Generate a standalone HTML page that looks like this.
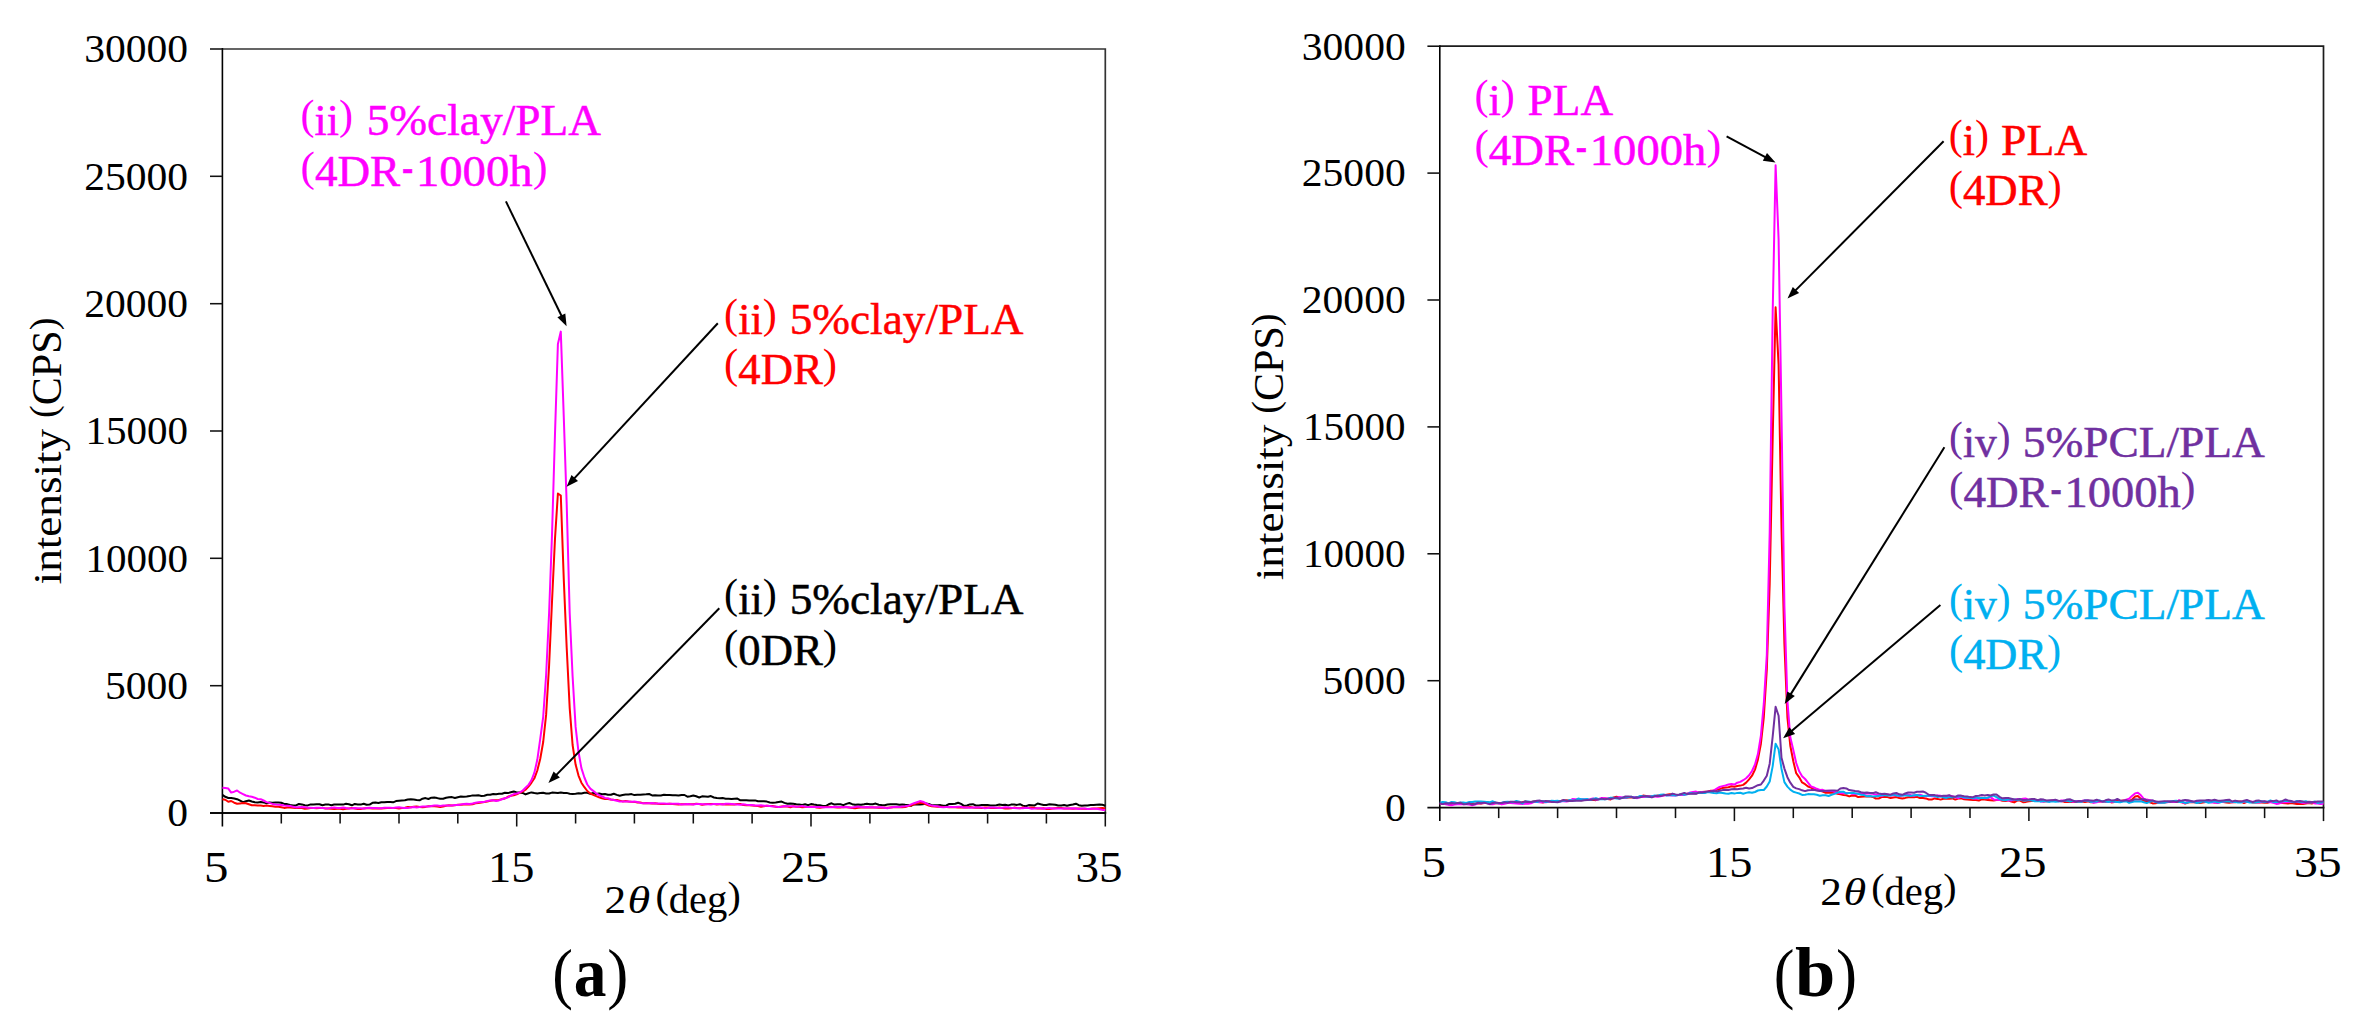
<!DOCTYPE html>
<html lang="en">
<head>
<meta charset="utf-8">
<title>XRD intensity profiles</title>
<style>
html,body{margin:0;padding:0;background:#fff;}
body{width:2379px;height:1030px;overflow:hidden;}
svg{display:block;}
svg text{font-family:"Liberation Serif", "DejaVu Serif", serif;fill:#000;}
svg g[fill] text{fill:inherit;}
.tk line{stroke:#111;stroke-width:1.55;}
</style>
</head>
<body>
<svg width="2379" height="1030" viewBox="0 0 2379 1030">
<rect width="2379" height="1030" fill="#fff"/>

<!-- chart (a) -->
<path d="M222.4,49.0H1105.3V813.0" fill="none" stroke="#333" stroke-width="1.7"/>
<path d="M210.0,813.0H1106.2" fill="none" stroke="#0c0c0c" stroke-width="1.9"/>
<path d="M222.4,48.1V826.5" fill="none" stroke="#000" stroke-width="1.6"/>
<g class="tk"><line x1="210.0" y1="685.7" x2="222.4" y2="685.7"/>
<line x1="210.0" y1="558.3" x2="222.4" y2="558.3"/>
<line x1="210.0" y1="431.0" x2="222.4" y2="431.0"/>
<line x1="210.0" y1="303.7" x2="222.4" y2="303.7"/>
<line x1="210.0" y1="176.3" x2="222.4" y2="176.3"/>
<line x1="210.0" y1="49.0" x2="222.4" y2="49.0"/>
<line x1="281.3" y1="813.0" x2="281.3" y2="823.5"/>
<line x1="340.1" y1="813.0" x2="340.1" y2="823.5"/>
<line x1="399.0" y1="813.0" x2="399.0" y2="823.5"/>
<line x1="457.8" y1="813.0" x2="457.8" y2="823.5"/>
<line x1="516.7" y1="813.0" x2="516.7" y2="826.5"/>
<line x1="575.6" y1="813.0" x2="575.6" y2="823.5"/>
<line x1="634.4" y1="813.0" x2="634.4" y2="823.5"/>
<line x1="693.3" y1="813.0" x2="693.3" y2="823.5"/>
<line x1="752.1" y1="813.0" x2="752.1" y2="823.5"/>
<line x1="811.0" y1="813.0" x2="811.0" y2="826.5"/>
<line x1="869.9" y1="813.0" x2="869.9" y2="823.5"/>
<line x1="928.7" y1="813.0" x2="928.7" y2="823.5"/>
<line x1="987.6" y1="813.0" x2="987.6" y2="823.5"/>
<line x1="1046.4" y1="813.0" x2="1046.4" y2="823.5"/>
<line x1="1105.3" y1="813.0" x2="1105.3" y2="826.5"/></g>
<polyline points="222.4,794.9 225.3,796.8 228.3,798.0 231.2,798.0 234.2,798.5 237.1,799.2 240.1,800.7 243.0,802.1 245.9,801.2 248.9,800.5 251.8,801.5 254.8,802.3 257.7,802.4 260.7,802.0 263.6,802.4 266.5,803.2 269.5,802.5 272.4,802.7 275.4,802.4 278.3,802.6 281.3,802.8 284.2,803.9 287.1,804.1 290.1,804.9 293.0,805.5 296.0,805.4 298.9,804.0 301.9,804.4 304.8,805.2 307.7,805.4 310.7,804.4 313.6,804.4 316.6,804.3 319.5,804.2 322.5,805.2 325.4,804.6 328.3,804.4 331.3,805.2 334.2,804.5 337.2,804.4 340.1,804.6 343.1,804.6 346.0,803.8 348.9,804.2 351.9,805.3 354.8,803.9 357.8,804.4 360.7,804.6 363.7,803.7 366.6,804.8 369.6,804.6 372.5,802.8 375.4,802.6 378.4,803.0 381.3,802.3 384.3,802.3 387.2,801.9 390.2,801.9 393.1,802.3 396.0,801.1 399.0,800.7 401.9,800.4 404.9,800.3 407.8,799.5 410.8,799.3 413.7,799.5 416.6,800.0 419.6,800.3 422.5,798.7 425.5,798.1 428.4,799.0 431.4,797.7 434.3,797.6 437.2,798.1 440.2,798.8 443.1,798.7 446.1,797.7 449.0,797.2 452.0,797.1 454.9,798.0 457.8,797.2 460.8,796.5 463.7,796.8 466.7,796.5 469.6,796.1 472.6,795.4 475.5,795.5 478.4,795.3 481.4,795.9 484.3,795.7 487.3,794.8 490.2,794.7 493.2,794.0 496.1,794.2 499.0,793.8 502.0,793.7 504.9,792.7 507.9,793.1 510.8,792.3 513.8,791.5 516.7,792.4 519.6,792.5 522.6,792.9 525.5,794.4 528.5,793.2 531.4,792.4 534.4,793.0 537.3,793.4 540.2,793.1 543.2,792.8 546.1,793.4 549.1,793.5 552.0,792.6 555.0,792.7 557.9,793.1 560.8,792.5 563.8,793.1 566.7,792.9 569.7,793.7 572.6,793.9 575.6,793.7 578.5,793.3 581.4,793.5 584.4,792.7 587.3,792.7 590.3,793.9 593.2,793.0 596.2,794.1 599.1,793.5 602.0,794.3 605.0,794.1 607.9,794.7 610.9,794.8 613.8,793.7 616.8,794.9 619.7,795.8 622.6,795.0 625.6,794.5 628.5,794.6 631.5,794.1 634.4,795.1 637.4,794.8 640.3,794.7 643.2,794.4 646.2,794.3 649.1,794.0 652.1,795.4 655.0,795.3 658.0,795.6 660.9,795.4 663.9,794.8 666.8,794.9 669.7,794.9 672.7,795.3 675.6,795.3 678.6,795.4 681.5,794.9 684.5,795.0 687.4,796.7 690.3,796.2 693.3,795.5 696.2,796.3 699.2,797.5 702.1,796.3 705.1,796.4 708.0,796.7 710.9,796.1 713.9,797.5 716.8,798.1 719.8,798.2 722.7,798.0 725.7,798.7 728.6,798.8 731.5,799.0 734.5,798.8 737.4,798.6 740.4,800.3 743.3,800.2 746.3,800.3 749.2,800.5 752.1,800.4 755.1,800.4 758.0,801.3 761.0,801.3 763.9,801.3 766.9,801.6 769.8,802.5 772.7,802.7 775.7,802.6 778.6,802.1 781.6,801.6 784.5,802.9 787.5,803.8 790.4,803.4 793.3,803.8 796.3,804.3 799.2,804.6 802.2,804.9 805.1,804.3 808.1,805.1 811.0,804.1 813.9,804.6 816.9,805.0 819.8,805.2 822.8,805.9 825.7,806.0 828.7,804.3 831.6,803.3 834.5,804.6 837.5,804.3 840.4,804.3 843.4,805.1 846.3,803.9 849.3,803.0 852.2,804.2 855.1,804.8 858.1,804.6 861.0,804.7 864.0,804.3 866.9,803.7 869.9,804.3 872.8,804.2 875.7,803.6 878.7,804.7 881.6,805.0 884.6,805.2 887.5,804.5 890.5,804.3 893.4,804.2 896.3,804.2 899.3,804.8 902.2,804.5 905.2,804.8 908.1,805.0 911.1,805.8 914.0,804.2 916.9,804.4 919.9,804.5 922.8,804.3 925.8,803.6 928.7,804.0 931.7,805.2 934.6,805.2 937.5,805.2 940.5,805.1 943.4,805.8 946.4,805.5 949.3,803.9 952.3,804.1 955.2,803.8 958.1,802.7 961.1,803.9 964.0,805.8 967.0,805.5 969.9,804.4 972.9,804.2 975.8,805.5 978.8,805.5 981.7,805.1 984.6,805.0 987.6,805.0 990.5,805.5 993.5,805.6 996.4,805.3 999.4,804.5 1002.3,805.0 1005.2,804.7 1008.2,805.4 1011.1,804.6 1014.1,804.5 1017.0,804.9 1020.0,804.2 1022.9,805.6 1025.8,806.3 1028.8,805.1 1031.7,805.2 1034.7,805.4 1037.6,803.5 1040.6,804.3 1043.5,804.9 1046.4,804.9 1049.4,804.3 1052.3,804.4 1055.3,804.7 1058.2,805.5 1061.2,805.4 1064.1,805.0 1067.0,805.7 1070.0,805.0 1072.9,804.5 1075.9,803.7 1078.8,805.2 1081.8,805.8 1084.7,805.6 1087.6,805.5 1090.6,805.1 1093.5,805.0 1096.5,804.7 1099.4,804.6 1102.4,804.8 1105.3,805.7" fill="none" stroke="#000000" stroke-width="2.0" stroke-linejoin="round" stroke-linecap="butt"/>
<polyline points="222.4,799.3 225.3,799.7 228.3,801.8 231.2,801.0 234.2,802.7 237.1,803.8 240.1,803.4 243.0,803.1 245.9,803.2 248.9,804.2 251.8,805.2 254.8,805.3 257.7,805.4 260.7,805.6 263.6,805.9 266.5,805.6 269.5,805.9 272.4,806.2 275.4,806.8 278.3,806.8 281.3,807.2 284.2,807.9 287.1,807.6 290.1,807.5 293.0,807.8 296.0,808.0 298.9,807.7 301.9,808.1 304.8,808.8 307.7,808.4 310.7,808.1 313.6,807.9 316.6,808.2 319.5,808.0 322.5,807.9 325.4,808.6 328.3,808.4 331.3,808.7 334.2,809.1 337.2,808.8 340.1,808.7 343.1,809.2 346.0,808.8 348.9,808.4 351.9,808.1 354.8,808.4 357.8,809.0 360.7,809.1 363.7,808.4 366.6,808.2 369.6,808.2 372.5,808.5 375.4,808.4 378.4,808.4 381.3,808.4 384.3,808.2 387.2,808.1 390.2,808.1 393.1,808.0 396.0,808.0 399.0,808.4 401.9,808.1 404.9,807.7 407.8,807.0 410.8,807.2 413.7,806.8 416.6,806.5 419.6,807.1 422.5,807.3 425.5,806.9 428.4,806.2 431.4,806.3 434.3,806.2 437.2,806.4 440.2,807.0 443.1,806.5 446.1,805.7 449.0,805.3 452.0,805.4 454.9,805.3 457.8,804.8 460.8,804.8 463.7,804.4 466.7,804.5 469.6,804.5 472.6,804.2 475.5,803.3 478.4,803.0 481.4,802.5 484.3,801.9 487.3,801.5 490.2,800.8 493.2,800.2 496.1,800.3 499.0,799.9 502.0,799.1 504.9,798.5 507.9,796.8 510.8,795.7 513.8,795.2 516.7,794.3 519.6,792.8 522.6,791.6 525.5,789.7 528.5,786.6 531.4,782.8 534.4,778.3 537.3,770.5 540.2,759.0 543.2,742.0 546.1,714.9 549.1,665.5 552.0,601.8 555.0,538.6 557.9,493.5 560.8,495.5 563.8,579.9 566.7,647.8 569.7,708.1 572.6,745.0 575.6,764.6 578.5,775.6 581.4,782.7 584.4,787.2 587.3,791.0 590.3,793.5 593.2,794.8 596.2,796.1 599.1,797.3 602.0,798.3 605.0,798.9 607.9,799.1 610.9,799.6 613.8,799.8 616.8,799.9 619.7,800.6 622.6,801.4 625.6,801.1 628.5,801.5 631.5,801.8 634.4,801.9 637.4,802.6 640.3,802.6 643.2,803.2 646.2,803.0 649.1,803.2 652.1,803.4 655.0,803.3 658.0,803.8 660.9,803.9 663.9,804.1 666.8,804.1 669.7,803.8 672.7,804.0 675.6,804.3 678.6,804.6 681.5,804.2 684.5,804.2 687.4,803.9 690.3,804.3 693.3,804.2 696.2,803.7 699.2,804.1 702.1,804.7 705.1,804.2 708.0,803.9 710.9,804.1 713.9,804.0 716.8,804.4 719.8,804.3 722.7,804.2 725.7,804.6 728.6,804.4 731.5,804.6 734.5,804.4 737.4,804.1 740.4,804.0 743.3,805.1 746.3,805.2 749.2,805.3 752.1,805.5 755.1,805.8 758.0,806.0 761.0,806.7 763.9,806.3 766.9,805.8 769.8,806.0 772.7,806.0 775.7,806.7 778.6,807.0 781.6,806.6 784.5,806.3 787.5,806.5 790.4,807.3 793.3,806.3 796.3,806.7 799.2,806.8 802.2,807.2 805.1,806.9 808.1,806.9 811.0,806.7 813.9,806.7 816.9,807.5 819.8,807.7 822.8,807.3 825.7,807.0 828.7,806.7 831.6,807.0 834.5,807.3 837.5,807.4 840.4,807.4 843.4,807.1 846.3,807.3 849.3,807.5 852.2,807.9 855.1,808.3 858.1,807.8 861.0,807.4 864.0,807.5 866.9,807.5 869.9,807.4 872.8,807.6 875.7,807.4 878.7,807.7 881.6,807.8 884.6,807.8 887.5,807.7 890.5,807.4 893.4,807.2 896.3,807.2 899.3,807.1 902.2,807.2 905.2,807.0 908.1,806.0 911.1,805.4 914.0,804.3 916.9,803.4 919.9,803.0 922.8,803.0 925.8,804.4 928.7,805.5 931.7,806.2 934.6,806.6 937.5,806.8 940.5,806.7 943.4,806.9 946.4,807.0 949.3,807.2 952.3,807.0 955.2,807.2 958.1,807.4 961.1,807.4 964.0,807.3 967.0,807.6 969.9,807.1 972.9,807.5 975.8,807.8 978.8,807.8 981.7,807.9 984.6,807.6 987.6,807.6 990.5,808.0 993.5,808.1 996.4,808.0 999.4,807.5 1002.3,807.9 1005.2,808.4 1008.2,808.5 1011.1,808.3 1014.1,807.6 1017.0,808.1 1020.0,808.2 1022.9,807.4 1025.8,807.9 1028.8,807.8 1031.7,807.6 1034.7,807.9 1037.6,808.5 1040.6,808.4 1043.5,808.3 1046.4,808.9 1049.4,809.1 1052.3,808.6 1055.3,808.3 1058.2,808.0 1061.2,808.0 1064.1,808.5 1067.0,808.6 1070.0,808.6 1072.9,808.8 1075.9,808.4 1078.8,808.4 1081.8,808.7 1084.7,808.8 1087.6,808.9 1090.6,808.8 1093.5,808.5 1096.5,808.6 1099.4,808.3 1102.4,808.0 1105.3,808.5" fill="none" stroke="#ff0000" stroke-width="2.0" stroke-linejoin="round" stroke-linecap="butt"/>
<polyline points="222.4,787.7 225.3,788.0 228.3,788.6 231.2,792.6 234.2,791.7 237.1,790.5 240.1,792.7 243.0,794.1 245.9,795.5 248.9,796.3 251.8,796.8 254.8,797.7 257.7,799.0 260.7,799.2 263.6,800.5 266.5,802.1 269.5,802.9 272.4,803.9 275.4,804.4 278.3,804.7 281.3,805.0 284.2,805.6 287.1,805.8 290.1,806.1 293.0,806.7 296.0,807.4 298.9,807.2 301.9,807.1 304.8,807.3 307.7,807.8 310.7,807.7 313.6,808.1 316.6,807.7 319.5,807.7 322.5,807.9 325.4,808.2 328.3,808.4 331.3,807.7 334.2,807.5 337.2,808.0 340.1,807.9 343.1,807.5 346.0,808.1 348.9,808.4 351.9,808.3 354.8,808.0 357.8,808.3 360.7,808.2 363.7,808.4 366.6,808.0 369.6,807.7 372.5,808.0 375.4,807.9 378.4,808.2 381.3,808.2 384.3,807.7 387.2,807.8 390.2,807.7 393.1,807.9 396.0,807.6 399.0,807.3 401.9,807.7 404.9,808.1 407.8,808.1 410.8,807.4 413.7,807.1 416.6,807.4 419.6,807.0 422.5,806.4 425.5,806.4 428.4,806.6 431.4,806.1 434.3,805.6 437.2,805.4 440.2,805.9 443.1,805.6 446.1,805.4 449.0,805.5 452.0,805.5 454.9,805.0 457.8,805.0 460.8,804.5 463.7,804.1 466.7,803.7 469.6,803.9 472.6,803.5 475.5,802.7 478.4,802.3 481.4,802.0 484.3,801.9 487.3,800.9 490.2,800.4 493.2,800.3 496.1,800.9 499.0,800.4 502.0,799.2 504.9,798.2 507.9,797.4 510.8,795.6 513.8,794.1 516.7,793.6 519.6,792.5 522.6,790.7 525.5,787.8 528.5,784.9 531.4,780.3 534.4,772.6 537.3,759.8 540.2,739.2 543.2,716.8 546.1,675.5 549.1,613.1 552.0,535.0 555.0,433.6 557.9,344.0 560.8,331.6 563.8,417.7 566.7,504.2 569.7,613.2 572.6,676.3 575.6,726.9 578.5,751.8 581.4,768.1 584.4,777.5 587.3,784.5 590.3,788.6 593.2,790.9 596.2,793.3 599.1,795.1 602.0,796.5 605.0,797.9 607.9,798.3 610.9,799.5 613.8,800.0 616.8,800.8 619.7,801.4 622.6,801.5 625.6,801.6 628.5,801.6 631.5,801.7 634.4,801.5 637.4,801.9 640.3,802.9 643.2,803.3 646.2,803.3 649.1,803.2 652.1,802.9 655.0,803.5 658.0,803.5 660.9,803.5 663.9,803.5 666.8,803.7 669.7,803.7 672.7,803.8 675.6,803.7 678.6,803.7 681.5,804.6 684.5,804.3 687.4,804.0 690.3,804.2 693.3,804.4 696.2,803.9 699.2,803.9 702.1,804.3 705.1,804.3 708.0,804.2 710.9,804.6 713.9,804.1 716.8,804.0 719.8,804.0 722.7,804.5 725.7,803.8 728.6,803.7 731.5,803.9 734.5,804.3 737.4,804.5 740.4,804.8 743.3,804.2 746.3,804.7 749.2,805.0 752.1,805.0 755.1,805.6 758.0,805.6 761.0,805.2 763.9,805.7 766.9,805.7 769.8,805.9 772.7,806.4 775.7,806.6 778.6,807.0 781.6,806.7 784.5,806.1 787.5,806.2 790.4,806.3 793.3,806.2 796.3,806.7 799.2,806.6 802.2,806.1 805.1,806.7 808.1,806.9 811.0,807.0 813.9,807.0 816.9,807.1 819.8,807.1 822.8,807.3 825.7,807.3 828.7,807.2 831.6,807.2 834.5,806.7 837.5,806.9 840.4,807.0 843.4,807.2 846.3,806.8 849.3,807.5 852.2,807.5 855.1,806.9 858.1,806.6 861.0,807.0 864.0,807.3 866.9,807.1 869.9,807.3 872.8,807.2 875.7,807.5 878.7,807.3 881.6,807.3 884.6,807.7 887.5,808.3 890.5,807.4 893.4,807.0 896.3,806.8 899.3,807.1 902.2,806.6 905.2,806.3 908.1,805.8 911.1,804.4 914.0,803.2 916.9,802.2 919.9,801.1 922.8,801.7 925.8,803.2 928.7,804.6 931.7,805.6 934.6,805.9 937.5,806.3 940.5,807.0 943.4,807.2 946.4,807.0 949.3,806.8 952.3,807.1 955.2,807.1 958.1,806.7 961.1,806.8 964.0,807.6 967.0,807.6 969.9,807.7 972.9,807.4 975.8,807.6 978.8,807.4 981.7,807.4 984.6,808.2 987.6,808.1 990.5,807.6 993.5,807.5 996.4,807.7 999.4,808.1 1002.3,807.7 1005.2,807.2 1008.2,807.4 1011.1,807.8 1014.1,807.9 1017.0,808.3 1020.0,808.2 1022.9,808.2 1025.8,807.7 1028.8,808.1 1031.7,808.8 1034.7,808.6 1037.6,808.3 1040.6,808.2 1043.5,808.7 1046.4,808.2 1049.4,808.1 1052.3,808.4 1055.3,808.6 1058.2,808.4 1061.2,808.4 1064.1,808.4 1067.0,808.5 1070.0,808.5 1072.9,808.2 1075.9,808.5 1078.8,808.9 1081.8,808.6 1084.7,808.6 1087.6,809.0 1090.6,808.7 1093.5,808.8 1096.5,808.7 1099.4,809.2 1102.4,809.9 1105.3,810.0" fill="none" stroke="#ff00ff" stroke-width="2.0" stroke-linejoin="round" stroke-linecap="butt"/>
<text x="167.3" y="826.3" font-size="40.2" textLength="20.8" lengthAdjust="spacingAndGlyphs">0</text>
<text x="105.0" y="699.0" font-size="40.2" textLength="83.1" lengthAdjust="spacingAndGlyphs">5000</text>
<text x="85.4" y="571.6" font-size="40.2" textLength="102.6" lengthAdjust="spacingAndGlyphs">10000</text>
<text x="85.4" y="444.3" font-size="40.2" textLength="102.6" lengthAdjust="spacingAndGlyphs">15000</text>
<text x="84.2" y="317.0" font-size="40.2" textLength="103.9" lengthAdjust="spacingAndGlyphs">20000</text>
<text x="84.2" y="189.6" font-size="40.2" textLength="103.9" lengthAdjust="spacingAndGlyphs">25000</text>
<text x="84.2" y="62.3" font-size="40.2" textLength="103.9" lengthAdjust="spacingAndGlyphs">30000</text>
<text x="204.0" y="882.0" font-size="44.0" textLength="24.5" lengthAdjust="spacingAndGlyphs">5</text>
<text x="488.0" y="882.0" font-size="44.0" textLength="46.4" lengthAdjust="spacingAndGlyphs">15</text>
<text x="780.9" y="882.0" font-size="44.0" textLength="48.3" lengthAdjust="spacingAndGlyphs">25</text>
<text x="1075.5" y="882.0" font-size="44.0" textLength="47.1" lengthAdjust="spacingAndGlyphs">35</text>
<text transform="translate(60.8,583.5) rotate(-90)"><tspan x="-0.9" y="0.0" font-size="39.8" textLength="155.6" lengthAdjust="spacingAndGlyphs">intensity</tspan><tspan> </tspan><tspan x="165.6" y="0.0" font-size="42.7" textLength="100.2" lengthAdjust="spacingAndGlyphs"><tspan font-size="38.6" dy="-5.1">(</tspan><tspan dy="5.1">CPS</tspan><tspan font-size="38.6" dy="-5.1">)</tspan></tspan></text>
<text><tspan x="604.4" y="912.9" font-size="39.0" textLength="21.6" lengthAdjust="spacingAndGlyphs">2</tspan><tspan x="627.6" y="912.9" font-size="38.3" textLength="22.7" lengthAdjust="spacingAndGlyphs" font-style="italic">θ</tspan><tspan> </tspan><tspan x="655.4" y="912.9" font-size="39.0" textLength="85.3" lengthAdjust="spacingAndGlyphs"><tspan font-size="38.3" dy="-5.3">(</tspan><tspan dy="5.3">deg</tspan><tspan font-size="38.3" dy="-5.3">)</tspan></tspan></text>
<text><tspan x="552.3" y="996.2" font-size="68.0" textLength="20.7" lengthAdjust="spacingAndGlyphs">(</tspan><tspan x="573.7" y="995.9" font-size="69.5" textLength="32.7" lengthAdjust="spacingAndGlyphs" font-weight="bold">a</tspan><tspan x="607.3" y="996.2" font-size="68.0" textLength="21.1" lengthAdjust="spacingAndGlyphs">)</tspan></text>
<g fill="#ff00ff" stroke="#ff00ff" stroke-width="0.5">
<text><tspan x="300.6" y="135.0" font-size="44.3" textLength="52.4" lengthAdjust="spacingAndGlyphs"><tspan font-size="42.4" dy="-5.8" stroke="none">(</tspan><tspan dy="5.8">ii</tspan><tspan font-size="42.4" dy="-5.8" stroke="none">)</tspan></tspan><tspan> </tspan><tspan x="366.7" y="135.0" font-size="44.3" textLength="234.2" lengthAdjust="spacingAndGlyphs">5%clay/PLA</tspan></text>
<text><tspan x="300.5" y="186.4" font-size="44.3" textLength="99.7" lengthAdjust="spacingAndGlyphs"><tspan font-size="42.4" dy="-5.8" stroke="none">(</tspan><tspan dy="5.8">4DR</tspan></tspan><tspan x="401.9" y="182.8" font-size="50.0" textLength="11.2" lengthAdjust="spacingAndGlyphs">-</tspan><tspan x="415.9" y="186.4" font-size="44.3" textLength="131.7" lengthAdjust="spacingAndGlyphs"><tspan>1000h</tspan><tspan font-size="42.4" dy="-5.8" stroke="none">)</tspan></tspan></text>
</g>
<g fill="#ff0000" stroke="#ff0000" stroke-width="0.5">
<text><tspan x="724.1" y="333.6" font-size="44.3" textLength="52.6" lengthAdjust="spacingAndGlyphs"><tspan font-size="42.4" dy="-5.8" stroke="none">(</tspan><tspan dy="5.8">ii</tspan><tspan font-size="42.4" dy="-5.8" stroke="none">)</tspan></tspan><tspan> </tspan><tspan x="789.7" y="333.6" font-size="44.3" textLength="233.8" lengthAdjust="spacingAndGlyphs">5%clay/PLA</tspan></text>
<text><tspan x="724.1" y="383.9" font-size="44.3" textLength="112.9" lengthAdjust="spacingAndGlyphs"><tspan font-size="42.4" dy="-5.8" stroke="none">(</tspan><tspan dy="5.8">4DR</tspan><tspan font-size="42.4" dy="-5.8" stroke="none">)</tspan></tspan></text>
</g>
<g fill="#000000" stroke="#000000" stroke-width="0.5">
<text><tspan x="724.1" y="614.2" font-size="44.3" textLength="52.6" lengthAdjust="spacingAndGlyphs"><tspan font-size="42.4" dy="-5.8" stroke="none">(</tspan><tspan dy="5.8">ii</tspan><tspan font-size="42.4" dy="-5.8" stroke="none">)</tspan></tspan><tspan> </tspan><tspan x="789.7" y="614.2" font-size="44.3" textLength="233.8" lengthAdjust="spacingAndGlyphs">5%clay/PLA</tspan></text>
<text><tspan x="724.1" y="664.7" font-size="44.3" textLength="112.9" lengthAdjust="spacingAndGlyphs"><tspan font-size="42.4" dy="-5.8" stroke="none">(</tspan><tspan dy="5.8">0DR</tspan><tspan font-size="42.4" dy="-5.8" stroke="none">)</tspan></tspan></text>
</g>
<line x1="505.9" y1="201.4" x2="562.2" y2="317.2" stroke="#000" stroke-width="2.0"/><polygon points="566.6,326.2 557.4,317.3 565.3,313.5" fill="#000"/>
<line x1="717.8" y1="323.3" x2="573.4" y2="479.4" stroke="#000" stroke-width="2.0"/><polygon points="566.6,486.7 571.5,474.9 578.0,480.9" fill="#000"/>
<line x1="719.3" y1="608.2" x2="555.4" y2="775.9" stroke="#000" stroke-width="2.0"/><polygon points="548.4,783.1 553.6,771.4 559.9,777.6" fill="#000"/>
<!-- chart (b) -->
<path d="M1439.8,46.2H2323.5V807.6" fill="none" stroke="#1c1c1c" stroke-width="1.7"/>
<path d="M1427.4,807.6H2324.4" fill="none" stroke="#0c0c0c" stroke-width="1.9"/>
<path d="M1439.8,45.3V821.1" fill="none" stroke="#000" stroke-width="1.6"/>
<g class="tk"><line x1="1427.4" y1="680.7" x2="1439.8" y2="680.7"/>
<line x1="1427.4" y1="553.8" x2="1439.8" y2="553.8"/>
<line x1="1427.4" y1="426.9" x2="1439.8" y2="426.9"/>
<line x1="1427.4" y1="300.0" x2="1439.8" y2="300.0"/>
<line x1="1427.4" y1="173.1" x2="1439.8" y2="173.1"/>
<line x1="1427.4" y1="46.2" x2="1439.8" y2="46.2"/>
<line x1="1498.7" y1="807.6" x2="1498.7" y2="818.1"/>
<line x1="1557.6" y1="807.6" x2="1557.6" y2="818.1"/>
<line x1="1616.5" y1="807.6" x2="1616.5" y2="818.1"/>
<line x1="1675.5" y1="807.6" x2="1675.5" y2="818.1"/>
<line x1="1734.4" y1="807.6" x2="1734.4" y2="821.1"/>
<line x1="1793.3" y1="807.6" x2="1793.3" y2="818.1"/>
<line x1="1852.2" y1="807.6" x2="1852.2" y2="818.1"/>
<line x1="1911.1" y1="807.6" x2="1911.1" y2="818.1"/>
<line x1="1970.0" y1="807.6" x2="1970.0" y2="818.1"/>
<line x1="2028.9" y1="807.6" x2="2028.9" y2="821.1"/>
<line x1="2087.8" y1="807.6" x2="2087.8" y2="818.1"/>
<line x1="2146.8" y1="807.6" x2="2146.8" y2="818.1"/>
<line x1="2205.7" y1="807.6" x2="2205.7" y2="818.1"/>
<line x1="2264.6" y1="807.6" x2="2264.6" y2="818.1"/>
<line x1="2323.5" y1="807.6" x2="2323.5" y2="821.1"/></g>
<polyline points="1439.8,803.4 1442.7,803.9 1445.7,803.8 1448.6,803.6 1451.6,804.3 1454.5,803.2 1457.5,803.7 1460.4,803.7 1463.4,804.1 1466.3,803.8 1469.3,803.1 1472.2,803.3 1475.1,803.7 1478.1,803.4 1481.0,803.5 1484.0,803.0 1486.9,801.9 1489.9,803.0 1492.8,803.6 1495.8,803.2 1498.7,803.0 1501.7,803.4 1504.6,802.8 1507.6,802.3 1510.5,802.4 1513.4,803.1 1516.4,802.1 1519.3,802.6 1522.3,802.3 1525.2,801.5 1528.2,802.5 1531.1,802.3 1534.1,801.3 1537.0,801.3 1540.0,802.1 1542.9,802.5 1545.8,801.6 1548.8,801.5 1551.7,801.7 1554.7,801.0 1557.6,801.0 1560.6,801.0 1563.5,800.5 1566.5,800.2 1569.4,800.4 1572.4,800.4 1575.3,799.9 1578.2,799.7 1581.2,800.3 1584.1,800.1 1587.1,800.0 1590.0,800.1 1593.0,799.7 1595.9,800.2 1598.9,798.9 1601.8,798.8 1604.8,798.5 1607.7,799.1 1610.6,799.4 1613.6,797.4 1616.5,796.8 1619.5,797.8 1622.4,798.1 1625.4,797.9 1628.3,797.4 1631.3,797.3 1634.2,797.4 1637.2,796.9 1640.1,797.1 1643.1,795.6 1646.0,796.1 1648.9,795.9 1651.9,796.3 1654.8,796.1 1657.8,795.4 1660.7,795.7 1663.7,795.2 1666.6,794.7 1669.6,794.2 1672.5,794.6 1675.5,795.0 1678.4,795.1 1681.3,794.3 1684.3,794.3 1687.2,793.8 1690.2,793.1 1693.1,793.2 1696.1,793.3 1699.0,792.5 1702.0,791.9 1704.9,791.7 1707.9,791.5 1710.8,790.7 1713.7,790.8 1716.7,789.8 1719.6,789.1 1722.6,787.9 1725.5,787.5 1728.5,787.2 1731.4,786.3 1734.4,786.8 1737.3,786.0 1740.3,785.6 1743.2,784.9 1746.1,782.6 1749.1,779.4 1752.0,775.7 1755.0,769.6 1757.9,759.6 1760.9,743.7 1763.8,717.3 1766.8,669.8 1769.7,583.6 1772.7,437.8 1775.6,307.3 1778.6,364.9 1781.5,528.2 1784.4,643.7 1787.4,717.3 1790.3,745.7 1793.3,761.3 1796.2,773.2 1799.2,777.3 1802.1,782.4 1805.1,784.2 1808.0,786.5 1811.0,787.6 1813.9,789.1 1816.8,790.0 1819.8,790.6 1822.7,791.5 1825.7,792.7 1828.6,792.7 1831.6,792.8 1834.5,792.8 1837.5,793.8 1840.4,794.2 1843.4,795.0 1846.3,795.3 1849.2,796.4 1852.2,795.5 1855.1,795.7 1858.1,797.0 1861.0,796.8 1864.0,796.4 1866.9,796.6 1869.9,796.3 1872.8,796.9 1875.8,798.5 1878.7,798.5 1881.7,797.1 1884.6,796.7 1887.5,797.1 1890.5,798.0 1893.4,797.5 1896.4,797.1 1899.3,798.0 1902.3,798.4 1905.2,797.9 1908.2,797.2 1911.1,796.9 1914.1,797.3 1917.0,796.8 1919.9,798.0 1922.9,798.1 1925.8,798.4 1928.8,799.5 1931.7,799.6 1934.7,798.4 1937.6,798.9 1940.6,799.6 1943.5,798.8 1946.5,798.4 1949.4,798.8 1952.3,798.4 1955.3,799.6 1958.2,798.6 1961.2,798.3 1964.1,799.2 1967.1,799.5 1970.0,799.8 1973.0,800.0 1975.9,799.9 1978.9,800.5 1981.8,799.3 1984.7,799.6 1987.7,799.9 1990.6,800.2 1993.6,800.5 1996.5,800.0 1999.5,799.9 2002.4,800.8 2005.4,800.9 2008.3,800.4 2011.3,801.5 2014.2,802.4 2017.2,800.6 2020.1,800.6 2023.0,802.2 2026.0,801.9 2028.9,801.2 2031.9,800.9 2034.8,800.7 2037.8,800.8 2040.7,800.8 2043.7,801.4 2046.6,801.2 2049.6,800.9 2052.5,800.5 2055.4,801.0 2058.4,800.9 2061.3,801.1 2064.3,801.9 2067.2,801.9 2070.2,801.9 2073.1,801.9 2076.1,801.7 2079.0,801.6 2082.0,801.5 2084.9,802.0 2087.8,801.4 2090.8,802.2 2093.7,802.2 2096.7,801.5 2099.6,801.5 2102.6,801.5 2105.5,801.9 2108.5,801.6 2111.4,802.4 2114.4,801.9 2117.3,800.7 2120.2,801.1 2123.2,800.6 2126.1,800.8 2129.1,801.2 2132.0,799.5 2135.0,796.6 2137.9,796.0 2140.9,798.9 2143.8,800.7 2146.8,801.2 2149.7,802.2 2152.7,803.4 2155.6,803.3 2158.5,802.5 2161.5,802.3 2164.4,802.5 2167.4,802.0 2170.3,801.5 2173.3,802.0 2176.2,801.8 2179.2,802.0 2182.1,802.3 2185.1,803.5 2188.0,802.5 2190.9,802.1 2193.9,802.3 2196.8,802.6 2199.8,803.0 2202.7,802.4 2205.7,801.9 2208.6,801.4 2211.6,801.6 2214.5,802.5 2217.5,802.6 2220.4,802.0 2223.3,802.0 2226.3,802.4 2229.2,802.7 2232.2,802.3 2235.1,802.2 2238.1,801.5 2241.0,801.5 2244.0,803.1 2246.9,801.9 2249.9,801.9 2252.8,802.6 2255.7,802.5 2258.7,802.2 2261.6,802.5 2264.6,802.7 2267.5,802.7 2270.5,801.8 2273.4,802.3 2276.4,802.4 2279.3,802.4 2282.3,802.9 2285.2,803.3 2288.2,803.6 2291.1,803.0 2294.0,803.4 2297.0,803.9 2299.9,804.0 2302.9,804.1 2305.8,803.5 2308.8,803.1 2311.7,803.6 2314.7,802.8 2317.6,803.1 2320.6,803.1 2323.5,803.1" fill="none" stroke="#ff0000" stroke-width="2.0" stroke-linejoin="round" stroke-linecap="butt"/>
<polyline points="1439.8,803.8 1442.7,803.6 1445.7,804.2 1448.6,804.9 1451.6,805.2 1454.5,804.6 1457.5,804.3 1460.4,803.9 1463.4,804.3 1466.3,804.3 1469.3,804.5 1472.2,805.2 1475.1,804.6 1478.1,803.3 1481.0,803.2 1484.0,803.0 1486.9,803.0 1489.9,804.2 1492.8,804.3 1495.8,803.1 1498.7,803.6 1501.7,804.4 1504.6,803.7 1507.6,803.0 1510.5,803.0 1513.4,803.3 1516.4,803.6 1519.3,803.8 1522.3,803.9 1525.2,803.7 1528.2,803.7 1531.1,803.3 1534.1,801.9 1537.0,801.9 1540.0,802.3 1542.9,801.9 1545.8,802.3 1548.8,801.8 1551.7,801.0 1554.7,801.9 1557.6,801.9 1560.6,801.3 1563.5,801.3 1566.5,801.4 1569.4,800.9 1572.4,799.1 1575.3,799.2 1578.2,799.5 1581.2,799.2 1584.1,799.5 1587.1,800.1 1590.0,799.3 1593.0,798.4 1595.9,799.7 1598.9,799.0 1601.8,797.9 1604.8,798.2 1607.7,798.5 1610.6,797.9 1613.6,798.2 1616.5,797.8 1619.5,797.1 1622.4,797.4 1625.4,797.8 1628.3,797.1 1631.3,797.1 1634.2,797.0 1637.2,798.2 1640.1,797.0 1643.1,797.0 1646.0,796.7 1648.9,796.2 1651.9,796.4 1654.8,796.6 1657.8,796.7 1660.7,796.2 1663.7,795.4 1666.6,795.0 1669.6,795.3 1672.5,795.4 1675.5,795.6 1678.4,795.1 1681.3,794.8 1684.3,794.9 1687.2,794.0 1690.2,792.5 1693.1,791.9 1696.1,791.6 1699.0,792.7 1702.0,791.9 1704.9,791.9 1707.9,791.7 1710.8,791.5 1713.7,790.5 1716.7,788.6 1719.6,787.0 1722.6,786.1 1725.5,785.4 1728.5,784.5 1731.4,784.1 1734.4,784.6 1737.3,782.7 1740.3,781.9 1743.2,780.2 1746.1,778.2 1749.1,775.2 1752.0,771.0 1755.0,764.5 1757.9,754.1 1760.9,735.6 1763.8,703.7 1766.8,655.1 1769.7,532.2 1772.7,311.9 1775.6,165.2 1778.6,239.4 1781.5,414.6 1784.4,606.0 1787.4,700.6 1790.3,737.3 1793.3,750.0 1796.2,763.0 1799.2,771.3 1802.1,776.2 1805.1,779.0 1808.0,782.6 1811.0,786.3 1813.9,787.5 1816.8,788.8 1819.8,789.9 1822.7,789.8 1825.7,791.1 1828.6,790.7 1831.6,790.9 1834.5,791.8 1837.5,792.6 1840.4,792.9 1843.4,793.2 1846.3,793.0 1849.2,792.9 1852.2,793.7 1855.1,793.9 1858.1,793.6 1861.0,793.5 1864.0,794.0 1866.9,793.6 1869.9,793.6 1872.8,793.7 1875.8,794.6 1878.7,795.2 1881.7,796.1 1884.6,794.8 1887.5,794.4 1890.5,795.4 1893.4,795.3 1896.4,795.0 1899.3,796.0 1902.3,795.6 1905.2,794.7 1908.2,794.5 1911.1,795.3 1914.1,795.8 1917.0,795.0 1919.9,794.8 1922.9,795.8 1925.8,796.3 1928.8,795.8 1931.7,796.2 1934.7,796.6 1937.6,795.5 1940.6,795.8 1943.5,796.6 1946.5,796.4 1949.4,795.5 1952.3,796.2 1955.3,797.3 1958.2,798.1 1961.2,796.5 1964.1,798.1 1967.1,797.6 1970.0,797.8 1973.0,798.6 1975.9,798.7 1978.9,798.3 1981.8,797.6 1984.7,798.3 1987.7,798.2 1990.6,797.1 1993.6,799.4 1996.5,799.8 1999.5,800.0 2002.4,799.0 2005.4,799.7 2008.3,800.5 2011.3,800.6 2014.2,799.9 2017.2,799.1 2020.1,799.4 2023.0,798.8 2026.0,798.6 2028.9,799.8 2031.9,799.8 2034.8,800.0 2037.8,800.3 2040.7,801.4 2043.7,801.6 2046.6,800.9 2049.6,801.2 2052.5,800.6 2055.4,800.4 2058.4,801.2 2061.3,800.5 2064.3,800.5 2067.2,800.2 2070.2,800.7 2073.1,801.9 2076.1,801.1 2079.0,801.1 2082.0,800.8 2084.9,800.4 2087.8,800.4 2090.8,801.7 2093.7,802.9 2096.7,802.2 2099.6,801.2 2102.6,801.6 2105.5,801.5 2108.5,801.8 2111.4,801.8 2114.4,801.7 2117.3,801.9 2120.2,801.4 2123.2,800.9 2126.1,799.6 2129.1,798.8 2132.0,795.9 2135.0,793.4 2137.9,792.7 2140.9,795.3 2143.8,798.8 2146.8,799.6 2149.7,800.2 2152.7,800.8 2155.6,801.7 2158.5,802.6 2161.5,802.4 2164.4,801.7 2167.4,802.3 2170.3,801.3 2173.3,802.1 2176.2,801.8 2179.2,800.2 2182.1,802.4 2185.1,803.2 2188.0,801.7 2190.9,801.6 2193.9,801.7 2196.8,801.8 2199.8,801.1 2202.7,801.1 2205.7,801.9 2208.6,802.1 2211.6,802.5 2214.5,802.2 2217.5,803.1 2220.4,802.1 2223.3,801.8 2226.3,801.0 2229.2,800.8 2232.2,802.3 2235.1,801.8 2238.1,802.0 2241.0,802.0 2244.0,801.4 2246.9,801.5 2249.9,801.7 2252.8,801.7 2255.7,802.3 2258.7,802.6 2261.6,802.0 2264.6,801.5 2267.5,802.1 2270.5,802.2 2273.4,802.7 2276.4,803.9 2279.3,803.4 2282.3,802.5 2285.2,802.3 2288.2,802.0 2291.1,801.8 2294.0,801.8 2297.0,802.1 2299.9,802.3 2302.9,802.9 2305.8,802.7 2308.8,802.6 2311.7,802.1 2314.7,803.4 2317.6,803.6 2320.6,804.0 2323.5,803.8" fill="none" stroke="#ff00ff" stroke-width="2.0" stroke-linejoin="round" stroke-linecap="butt"/>
<polyline points="1439.8,802.7 1442.7,802.1 1445.7,802.2 1448.6,803.5 1451.6,802.0 1454.5,802.2 1457.5,803.2 1460.4,802.6 1463.4,802.5 1466.3,802.9 1469.3,802.0 1472.2,802.0 1475.1,801.6 1478.1,801.4 1481.0,801.5 1484.0,801.7 1486.9,802.0 1489.9,802.3 1492.8,801.3 1495.8,802.7 1498.7,803.2 1501.7,802.7 1504.6,801.9 1507.6,801.7 1510.5,802.1 1513.4,802.2 1516.4,800.9 1519.3,801.6 1522.3,803.5 1525.2,801.4 1528.2,801.5 1531.1,801.9 1534.1,801.4 1537.0,802.1 1540.0,801.0 1542.9,801.0 1545.8,802.0 1548.8,801.4 1551.7,800.7 1554.7,800.9 1557.6,800.7 1560.6,801.5 1563.5,800.6 1566.5,800.9 1569.4,800.1 1572.4,800.4 1575.3,800.4 1578.2,798.6 1581.2,799.2 1584.1,799.2 1587.1,799.0 1590.0,800.1 1593.0,799.0 1595.9,798.1 1598.9,799.3 1601.8,799.1 1604.8,799.3 1607.7,798.9 1610.6,797.7 1613.6,797.7 1616.5,798.5 1619.5,798.5 1622.4,797.8 1625.4,797.4 1628.3,797.2 1631.3,796.7 1634.2,797.8 1637.2,797.3 1640.1,796.0 1643.1,795.9 1646.0,796.6 1648.9,796.8 1651.9,796.2 1654.8,795.6 1657.8,795.7 1660.7,794.8 1663.7,794.4 1666.6,795.5 1669.6,795.2 1672.5,795.1 1675.5,795.4 1678.4,795.0 1681.3,794.1 1684.3,794.7 1687.2,794.2 1690.2,793.0 1693.1,793.3 1696.1,793.4 1699.0,792.7 1702.0,792.9 1704.9,793.1 1707.9,792.0 1710.8,792.6 1713.7,793.1 1716.7,793.2 1719.6,792.6 1722.6,793.0 1725.5,793.6 1728.5,793.7 1731.4,793.0 1734.4,793.6 1737.3,792.9 1740.3,792.8 1743.2,793.8 1746.1,792.9 1749.1,792.2 1752.0,792.8 1755.0,792.0 1757.9,790.5 1760.9,790.0 1763.8,790.0 1766.8,786.5 1769.7,781.5 1772.7,766.1 1775.6,743.7 1778.6,749.4 1781.5,768.9 1784.4,782.1 1787.4,786.6 1790.3,789.6 1793.3,791.8 1796.2,792.6 1799.2,793.5 1802.1,794.9 1805.1,794.8 1808.0,794.1 1811.0,794.3 1813.9,794.2 1816.8,794.8 1819.8,795.8 1822.7,795.3 1825.7,795.3 1828.6,796.0 1831.6,794.8 1834.5,793.9 1837.5,792.6 1840.4,791.8 1843.4,791.7 1846.3,793.4 1849.2,793.0 1852.2,792.7 1855.1,793.2 1858.1,793.8 1861.0,794.7 1864.0,795.1 1866.9,796.3 1869.9,796.1 1872.8,796.4 1875.8,796.2 1878.7,796.1 1881.7,795.0 1884.6,795.2 1887.5,795.6 1890.5,795.6 1893.4,794.5 1896.4,795.6 1899.3,795.7 1902.3,795.4 1905.2,795.5 1908.2,795.6 1911.1,795.9 1914.1,795.2 1917.0,795.0 1919.9,795.7 1922.9,796.1 1925.8,795.8 1928.8,795.7 1931.7,795.6 1934.7,796.1 1937.6,797.1 1940.6,796.4 1943.5,797.4 1946.5,797.9 1949.4,797.1 1952.3,797.6 1955.3,796.9 1958.2,796.2 1961.2,796.5 1964.1,797.3 1967.1,797.7 1970.0,797.8 1973.0,798.2 1975.9,797.3 1978.9,798.2 1981.8,797.9 1984.7,797.9 1987.7,797.7 1990.6,796.3 1993.6,795.6 1996.5,797.1 1999.5,799.0 2002.4,799.9 2005.4,800.2 2008.3,799.5 2011.3,799.3 2014.2,799.4 2017.2,800.2 2020.1,799.3 2023.0,800.5 2026.0,800.5 2028.9,799.9 2031.9,800.5 2034.8,801.2 2037.8,801.1 2040.7,801.4 2043.7,801.1 2046.6,801.5 2049.6,801.9 2052.5,801.2 2055.4,801.8 2058.4,801.6 2061.3,801.2 2064.3,800.7 2067.2,800.8 2070.2,801.6 2073.1,800.8 2076.1,801.4 2079.0,801.8 2082.0,801.7 2084.9,800.4 2087.8,800.9 2090.8,801.9 2093.7,801.4 2096.7,801.5 2099.6,800.4 2102.6,801.4 2105.5,801.6 2108.5,802.0 2111.4,801.0 2114.4,801.7 2117.3,801.9 2120.2,802.2 2123.2,801.5 2126.1,801.2 2129.1,802.9 2132.0,802.0 2135.0,801.2 2137.9,801.5 2140.9,801.2 2143.8,802.2 2146.8,803.1 2149.7,801.9 2152.7,800.7 2155.6,802.0 2158.5,802.8 2161.5,802.6 2164.4,802.7 2167.4,801.7 2170.3,801.5 2173.3,801.1 2176.2,800.7 2179.2,802.0 2182.1,801.8 2185.1,802.9 2188.0,802.5 2190.9,801.5 2193.9,802.1 2196.8,803.0 2199.8,802.6 2202.7,801.3 2205.7,801.7 2208.6,802.7 2211.6,802.0 2214.5,801.3 2217.5,802.2 2220.4,802.2 2223.3,801.3 2226.3,801.4 2229.2,801.4 2232.2,801.8 2235.1,802.0 2238.1,802.5 2241.0,802.6 2244.0,801.2 2246.9,801.7 2249.9,802.5 2252.8,802.4 2255.7,802.6 2258.7,801.9 2261.6,801.3 2264.6,802.2 2267.5,801.6 2270.5,800.5 2273.4,802.0 2276.4,801.9 2279.3,801.7 2282.3,801.2 2285.2,801.0 2288.2,801.1 2291.1,801.6 2294.0,802.2 2297.0,801.0 2299.9,802.0 2302.9,801.8 2305.8,801.3 2308.8,802.3 2311.7,802.4 2314.7,801.5 2317.6,802.9 2320.6,802.4 2323.5,802.3" fill="none" stroke="#00b0f0" stroke-width="2.0" stroke-linejoin="round" stroke-linecap="butt"/>
<polyline points="1439.8,803.3 1442.7,804.1 1445.7,803.3 1448.6,803.6 1451.6,803.1 1454.5,803.6 1457.5,803.1 1460.4,802.7 1463.4,804.2 1466.3,803.9 1469.3,803.3 1472.2,804.5 1475.1,804.0 1478.1,802.7 1481.0,803.3 1484.0,802.6 1486.9,803.4 1489.9,804.1 1492.8,803.0 1495.8,802.5 1498.7,802.9 1501.7,803.0 1504.6,802.3 1507.6,802.8 1510.5,801.7 1513.4,801.8 1516.4,802.2 1519.3,802.2 1522.3,802.4 1525.2,801.6 1528.2,802.1 1531.1,802.1 1534.1,801.5 1537.0,800.8 1540.0,800.6 1542.9,801.5 1545.8,801.1 1548.8,801.2 1551.7,801.9 1554.7,802.1 1557.6,802.2 1560.6,801.2 1563.5,800.0 1566.5,800.9 1569.4,801.0 1572.4,801.1 1575.3,800.5 1578.2,800.7 1581.2,800.7 1584.1,800.3 1587.1,800.0 1590.0,799.7 1593.0,799.4 1595.9,799.2 1598.9,799.4 1601.8,798.6 1604.8,799.3 1607.7,798.7 1610.6,798.7 1613.6,798.2 1616.5,797.6 1619.5,798.8 1622.4,797.9 1625.4,796.5 1628.3,796.4 1631.3,796.7 1634.2,798.1 1637.2,797.5 1640.1,797.2 1643.1,796.2 1646.0,796.3 1648.9,796.7 1651.9,797.4 1654.8,796.1 1657.8,796.0 1660.7,796.1 1663.7,795.1 1666.6,795.1 1669.6,795.1 1672.5,793.6 1675.5,794.4 1678.4,794.9 1681.3,794.0 1684.3,792.9 1687.2,794.0 1690.2,793.8 1693.1,793.6 1696.1,793.8 1699.0,792.5 1702.0,792.5 1704.9,792.0 1707.9,791.5 1710.8,791.3 1713.7,791.0 1716.7,791.4 1719.6,790.8 1722.6,790.1 1725.5,789.7 1728.5,789.9 1731.4,789.3 1734.4,789.0 1737.3,789.2 1740.3,788.8 1743.2,788.5 1746.1,787.8 1749.1,788.5 1752.0,788.1 1755.0,786.6 1757.9,785.2 1760.9,784.5 1763.8,780.6 1766.8,775.7 1769.7,763.7 1772.7,736.3 1775.6,706.8 1778.6,715.7 1781.5,757.7 1784.4,768.6 1787.4,777.2 1790.3,782.7 1793.3,786.8 1796.2,788.4 1799.2,789.1 1802.1,790.3 1805.1,791.1 1808.0,790.2 1811.0,790.1 1813.9,789.9 1816.8,790.6 1819.8,791.0 1822.7,790.9 1825.7,790.7 1828.6,790.8 1831.6,790.4 1834.5,790.4 1837.5,790.7 1840.4,788.5 1843.4,788.1 1846.3,788.4 1849.2,790.1 1852.2,790.5 1855.1,791.1 1858.1,791.2 1861.0,792.2 1864.0,792.7 1866.9,792.6 1869.9,793.1 1872.8,793.1 1875.8,792.3 1878.7,793.4 1881.7,793.9 1884.6,793.7 1887.5,794.2 1890.5,794.7 1893.4,793.4 1896.4,792.9 1899.3,794.3 1902.3,794.8 1905.2,793.5 1908.2,792.5 1911.1,792.6 1914.1,792.8 1917.0,791.8 1919.9,791.7 1922.9,791.5 1925.8,792.7 1928.8,794.8 1931.7,795.1 1934.7,795.1 1937.6,795.8 1940.6,796.2 1943.5,795.7 1946.5,795.7 1949.4,795.3 1952.3,796.6 1955.3,796.8 1958.2,795.4 1961.2,795.6 1964.1,796.3 1967.1,796.4 1970.0,797.1 1973.0,797.2 1975.9,796.0 1978.9,795.7 1981.8,795.1 1984.7,795.5 1987.7,794.9 1990.6,795.5 1993.6,794.5 1996.5,794.5 1999.5,796.9 2002.4,798.3 2005.4,798.0 2008.3,798.1 2011.3,798.7 2014.2,799.5 2017.2,799.6 2020.1,799.1 2023.0,800.0 2026.0,799.8 2028.9,799.5 2031.9,799.0 2034.8,799.1 2037.8,800.2 2040.7,799.3 2043.7,799.6 2046.6,800.5 2049.6,800.2 2052.5,800.3 2055.4,799.7 2058.4,800.7 2061.3,801.3 2064.3,800.8 2067.2,799.4 2070.2,799.3 2073.1,800.7 2076.1,801.7 2079.0,801.1 2082.0,801.3 2084.9,800.5 2087.8,800.2 2090.8,800.5 2093.7,800.8 2096.7,799.8 2099.6,800.7 2102.6,801.6 2105.5,800.3 2108.5,799.5 2111.4,800.4 2114.4,800.3 2117.3,799.0 2120.2,800.4 2123.2,800.8 2126.1,800.1 2129.1,801.1 2132.0,800.5 2135.0,799.2 2137.9,799.4 2140.9,799.2 2143.8,799.3 2146.8,800.3 2149.7,800.4 2152.7,800.4 2155.6,801.6 2158.5,801.8 2161.5,801.5 2164.4,801.3 2167.4,801.2 2170.3,801.8 2173.3,801.2 2176.2,801.9 2179.2,800.8 2182.1,800.4 2185.1,799.9 2188.0,800.2 2190.9,801.0 2193.9,801.8 2196.8,800.8 2199.8,800.6 2202.7,800.6 2205.7,800.3 2208.6,799.9 2211.6,800.5 2214.5,799.8 2217.5,800.4 2220.4,800.8 2223.3,800.4 2226.3,800.0 2229.2,799.7 2232.2,801.5 2235.1,800.6 2238.1,801.3 2241.0,801.6 2244.0,800.8 2246.9,800.0 2249.9,801.1 2252.8,802.1 2255.7,800.8 2258.7,800.4 2261.6,801.4 2264.6,801.3 2267.5,802.1 2270.5,801.1 2273.4,801.1 2276.4,800.4 2279.3,801.8 2282.3,801.2 2285.2,799.5 2288.2,800.4 2291.1,801.0 2294.0,802.2 2297.0,801.6 2299.9,801.1 2302.9,801.6 2305.8,802.4 2308.8,801.8 2311.7,802.0 2314.7,802.1 2317.6,801.5 2320.6,801.5 2323.5,801.6" fill="none" stroke="#7030a0" stroke-width="2.0" stroke-linejoin="round" stroke-linecap="butt"/>
<text x="1384.9" y="820.9" font-size="40.2" textLength="20.8" lengthAdjust="spacingAndGlyphs">0</text>
<text x="1322.6" y="694.0" font-size="40.2" textLength="83.1" lengthAdjust="spacingAndGlyphs">5000</text>
<text x="1303.0" y="567.1" font-size="40.2" textLength="102.6" lengthAdjust="spacingAndGlyphs">10000</text>
<text x="1303.0" y="440.2" font-size="40.2" textLength="102.6" lengthAdjust="spacingAndGlyphs">15000</text>
<text x="1301.8" y="313.3" font-size="40.2" textLength="103.9" lengthAdjust="spacingAndGlyphs">20000</text>
<text x="1301.8" y="186.4" font-size="40.2" textLength="103.9" lengthAdjust="spacingAndGlyphs">25000</text>
<text x="1301.8" y="59.5" font-size="40.2" textLength="103.9" lengthAdjust="spacingAndGlyphs">30000</text>
<text x="1421.6" y="876.7" font-size="44.0" textLength="24.5" lengthAdjust="spacingAndGlyphs">5</text>
<text x="1706.1" y="876.7" font-size="44.0" textLength="46.3" lengthAdjust="spacingAndGlyphs">15</text>
<text x="1998.9" y="876.7" font-size="44.0" textLength="47.5" lengthAdjust="spacingAndGlyphs">25</text>
<text x="2293.9" y="876.7" font-size="44.0" textLength="47.8" lengthAdjust="spacingAndGlyphs">35</text>
<text transform="translate(1283.2,579.3) rotate(-90)"><tspan x="-0.9" y="0.0" font-size="39.8" textLength="155.6" lengthAdjust="spacingAndGlyphs">intensity</tspan><tspan> </tspan><tspan x="165.6" y="0.0" font-size="42.7" textLength="100.2" lengthAdjust="spacingAndGlyphs"><tspan font-size="38.6" dy="-5.1">(</tspan><tspan dy="5.1">CPS</tspan><tspan font-size="38.6" dy="-5.1">)</tspan></tspan></text>
<text><tspan x="1820.2" y="904.9" font-size="39.0" textLength="21.6" lengthAdjust="spacingAndGlyphs">2</tspan><tspan x="1843.4" y="904.9" font-size="38.3" textLength="22.7" lengthAdjust="spacingAndGlyphs" font-style="italic">θ</tspan><tspan> </tspan><tspan x="1871.2" y="904.9" font-size="39.0" textLength="85.3" lengthAdjust="spacingAndGlyphs"><tspan font-size="38.3" dy="-5.3">(</tspan><tspan dy="5.3">deg</tspan><tspan font-size="38.3" dy="-5.3">)</tspan></tspan></text>
<text><tspan x="1773.7" y="996.2" font-size="68.0" textLength="20.7" lengthAdjust="spacingAndGlyphs">(</tspan><tspan x="1794.9" y="996.1" font-size="70.3" textLength="40.3" lengthAdjust="spacingAndGlyphs" font-weight="bold">b</tspan><tspan x="1836.1" y="996.2" font-size="68.0" textLength="21.1" lengthAdjust="spacingAndGlyphs">)</tspan></text>
<g fill="#ff00ff" stroke="#ff00ff" stroke-width="0.5">
<text><tspan x="1474.4" y="114.8" font-size="44.3" textLength="40.4" lengthAdjust="spacingAndGlyphs"><tspan font-size="42.4" dy="-5.8" stroke="none">(</tspan><tspan dy="5.8">i</tspan><tspan font-size="42.4" dy="-5.8" stroke="none">)</tspan></tspan><tspan> </tspan><tspan x="1527.6" y="114.8" font-size="44.3" textLength="85.5" lengthAdjust="spacingAndGlyphs">PLA</tspan></text>
<text><tspan x="1474.4" y="165.2" font-size="44.3" textLength="99.7" lengthAdjust="spacingAndGlyphs"><tspan font-size="42.4" dy="-5.8" stroke="none">(</tspan><tspan dy="5.8">4DR</tspan></tspan><tspan x="1575.8" y="161.6" font-size="50.0" textLength="11.2" lengthAdjust="spacingAndGlyphs">-</tspan><tspan x="1589.8" y="165.2" font-size="44.3" textLength="131.5" lengthAdjust="spacingAndGlyphs"><tspan>1000h</tspan><tspan font-size="42.4" dy="-5.8" stroke="none">)</tspan></tspan></text>
</g>
<g fill="#ff0000" stroke="#ff0000" stroke-width="0.5">
<text><tspan x="1948.7" y="154.8" font-size="44.3" textLength="40.3" lengthAdjust="spacingAndGlyphs"><tspan font-size="42.4" dy="-5.8" stroke="none">(</tspan><tspan dy="5.8">i</tspan><tspan font-size="42.4" dy="-5.8" stroke="none">)</tspan></tspan><tspan> </tspan><tspan x="2001.0" y="154.8" font-size="44.3" textLength="86.2" lengthAdjust="spacingAndGlyphs">PLA</tspan></text>
<text><tspan x="1948.7" y="205.3" font-size="44.3" textLength="113.1" lengthAdjust="spacingAndGlyphs"><tspan font-size="42.4" dy="-5.8" stroke="none">(</tspan><tspan dy="5.8">4DR</tspan><tspan font-size="42.4" dy="-5.8" stroke="none">)</tspan></tspan></text>
</g>
<g fill="#7030a0" stroke="#7030a0" stroke-width="0.5">
<text><tspan x="1949.1" y="456.7" font-size="44.3" textLength="61.5" lengthAdjust="spacingAndGlyphs"><tspan font-size="42.4" dy="-5.8" stroke="none">(</tspan><tspan dy="5.8">iv</tspan><tspan font-size="42.4" dy="-5.8" stroke="none">)</tspan></tspan><tspan> </tspan><tspan x="2022.7" y="456.7" font-size="44.3" textLength="242.1" lengthAdjust="spacingAndGlyphs">5%PCL/PLA</tspan></text>
<text><tspan x="1949.0" y="507.1" font-size="44.3" textLength="99.7" lengthAdjust="spacingAndGlyphs"><tspan font-size="42.4" dy="-5.8" stroke="none">(</tspan><tspan dy="5.8">4DR</tspan></tspan><tspan x="2050.4" y="503.5" font-size="50.0" textLength="11.2" lengthAdjust="spacingAndGlyphs">-</tspan><tspan x="2064.4" y="507.1" font-size="44.3" textLength="131.1" lengthAdjust="spacingAndGlyphs"><tspan>1000h</tspan><tspan font-size="42.4" dy="-5.8" stroke="none">)</tspan></tspan></text>
</g>
<g fill="#00b0f0" stroke="#00b0f0" stroke-width="0.5">
<text><tspan x="1949.1" y="619.0" font-size="44.3" textLength="61.5" lengthAdjust="spacingAndGlyphs"><tspan font-size="42.4" dy="-5.8" stroke="none">(</tspan><tspan dy="5.8">iv</tspan><tspan font-size="42.4" dy="-5.8" stroke="none">)</tspan></tspan><tspan> </tspan><tspan x="2022.7" y="619.0" font-size="44.3" textLength="242.1" lengthAdjust="spacingAndGlyphs">5%PCL/PLA</tspan></text>
<text><tspan x="1949.0" y="669.3" font-size="44.3" textLength="112.2" lengthAdjust="spacingAndGlyphs"><tspan font-size="42.4" dy="-5.8" stroke="none">(</tspan><tspan dy="5.8">4DR</tspan><tspan font-size="42.4" dy="-5.8" stroke="none">)</tspan></tspan></text>
</g>
<line x1="1726.6" y1="136.4" x2="1766.7" y2="157.9" stroke="#000" stroke-width="2.0"/><polygon points="1775.5,162.6 1762.8,160.8 1767.0,153.1" fill="#000"/>
<line x1="1943.6" y1="141.3" x2="1794.5" y2="291.4" stroke="#000" stroke-width="2.0"/><polygon points="1787.5,298.5 1792.8,286.9 1799.1,293.1" fill="#000"/>
<line x1="1944.4" y1="447.2" x2="1790.0" y2="695.4" stroke="#000" stroke-width="2.0"/><polygon points="1784.7,703.9 1787.3,691.4 1794.8,696.0" fill="#000"/>
<line x1="1940.4" y1="604.9" x2="1790.7" y2="731.8" stroke="#000" stroke-width="2.0"/><polygon points="1783.1,738.3 1789.4,727.2 1795.1,733.9" fill="#000"/>
</svg>
</body>
</html>
